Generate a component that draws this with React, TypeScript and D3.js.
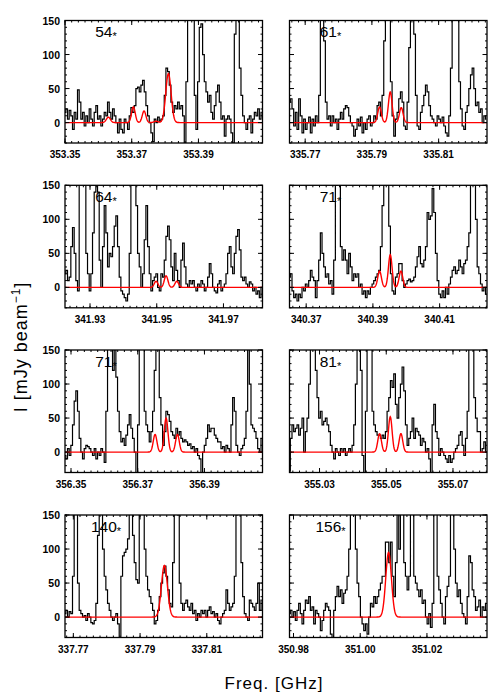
import React from "react";
import * as d3 from "d3";

// ---------- data ----------
const panelLabels = ["54", "61", "64", "71", "71", "81", "140", "156"];
const freqStart = [353.35, 335.7653, 341.9225, 340.365, 356.3482, 355.021, 337.7675, 350.9788];
const freqSpan = 0.0592;
const chanWidth = 0.0005;
const tickLabels = [
  ["353.35", "353.37", "353.39"],
  ["335.77", "335.79", "335.81"],
  ["341.93", "341.95", "341.97"],
  ["340.37", "340.39", "340.41"],
  ["356.35", "356.37", "356.39"],
  ["355.03", "355.05", "355.07"],
  ["337.77", "337.79", "337.81"],
  ["350.98", "351.00", "351.02"],
];
const yTicks = [0, 50, 100, 150];

const spec54 = [15, 20, 5, 18, 10, -10, 15, 5, 48, 30, 5, 15, -5, 10, 0, 20, 5, -5, 15, 25, 5, 10, -5, 5, 15, 10, 30, 15, 5, 20, 10, 0, -15, 5, -10, -15, 5, 0, -10, 10, 22, 15, 25, 50, 52, 45, 55, 62, 45, 25, 10, 0, -15, -28, 5, 0, 8, 2, 5, 10, 40, 80, 75, 55, 30, 15, 25, 20, 30, 20, 25, 10, -30, 60, 170, 200, 200, 160, 40, -10, 60, 140, 145, 100, 60, 45, 30, 40, 15, 5, 25, 45, 55, 30, 5, 10, -20, 5, 10, 5, -15, -30, 130, 200, 170, 80, 40, 10, 0, -10, 5, 10, -15, 5, 15, 10, 20, 5, 15];
const spec61 = [30, 35, 20, -5, 15, -10, 35, 10, -15, 5, -10, 0, 8, -15, 5, -5, 10, 0, 40, 180, 200, 120, 30, 5, 10, -5, 10, 0, 5, -10, 5, 15, 5, 20, 25, 22, 10, 0, -5, -20, -10, 5, -5, 8, -15, 0, -10, 5, 10, -5, 0, 10, 5, 25, 30, 10, 40, 120, 200, 200, 160, 60, 10, -20, 5, 15, 35, 45, 30, -5, -10, 30, 110, 200, 200, 130, 40, -5, -10, 15, 25, 40, 55, 45, 25, 10, 5, 0, -5, 10, 5, 0, 8, -5, -15, -20, 10, 80, 200, 200, 200, 150, 60, 20, -5, -10, 15, 25, 50, 70, 80, 50, 25, 30, 15, 20, 0, 10, 5];
const spec64 = [20, 25, 10, 15, 60, 88, 50, 10, -5, 160, 200, 200, 150, 50, 20, -5, 20, 80, 140, 160, 140, 40, 0, 60, 120, 80, 30, 50, 45, 60, 90, 105, 60, 15, -5, -10, -15, -20, -10, 50, 150, 200, 200, 120, 50, 30, 0, 20, 70, 120, 60, 20, -5, 10, 15, 20, 0, -5, 20, 15, 40, 75, 90, 70, 30, 10, 50, 25, 10, 0, 40, 65, 30, 5, 0, 10, 5, 10, 0, -5, 5, 0, 10, 5, -5, 0, 15, 35, 20, 0, -5, -8, 5, 10, -5, 0, 5, 20, 50, 60, 30, 20, 50, 75, 85, 55, 15, 10, 15, 5, 0, 8, 5, -5, 0, -10, -5, -15, 0];
const spec71a = [15, 20, -5, -15, -10, -20, -10, -15, 0, -5, 5, 0, 10, 25, 15, 10, -15, 10, 40, 80, 50, 30, 15, 20, 5, 10, -10, 40, 150, 200, 170, 60, 40, 55, 40, 20, 50, 30, 10, 20, 15, 20, 0, 5, -10, -5, -15, -5, -10, 0, 5, 10, 15, 20, 25, 60, 120, 200, 200, 180, 90, 20, -5, -10, 15, 20, 35, 35, 10, 0, 5, 10, 12, 8, 10, 15, 30, 45, 60, 35, 30, 40, 60, 110, 100, 105, 145, 110, 50, 10, -10, -15, -5, -15, 0, -10, 5, 15, 25, 30, 20, 25, 40, 30, 20, 35, 40, 60, 80, 160, 200, 170, 100, 30, 20, 5, -5, 0, -10];
const spec71b = [-5, -10, 5, -5, 10, 40, 75, 90, 60, 20, 0, -10, 5, 10, 8, 5, 0, -5, 5, -10, 0, -5, 5, 0, -15, 60, 160, 200, 170, 120, 160, 110, 60, 30, 15, 20, 10, 25, 40, 55, 35, 20, 0, -30, 40, 170, 200, 160, 60, 40, 30, 15, 30, 60, 120, 200, 190, 80, 40, 10, 30, 60, 55, 45, 30, 25, 20, 35, 25, 30, 20, 15, 18, 15, 10, 12, 5, 8, 0, 5, -5, -10, -30, 0, 10, 20, 40, 30, 35, 35, 25, 20, 15, 15, 5, 8, 0, 10, 5, 0, 40, 80, 60, 10, 0, -5, 5, 10, 20, 60, 160, 100, 40, 35, 30, 20, 5, 0, 20];
const spec81 = [-28, 20, 40, 30, 35, 40, 25, 35, 50, 0, 30, 50, 100, 170, 200, 180, 120, 80, 50, 60, 40, 45, 50, 40, 30, 10, 0, -10, 5, 0, -5, 5, 0, 5, -5, 0, 5, 0, 10, 40, 100, 170, 200, 120, -5, -30, 60, 180, 200, 160, 60, 40, 30, 25, 25, 20, 25, 20, 30, 60, 80, 105, 95, 115, 70, 50, 80, 100, 125, 90, 40, 10, 20, 30, 50, 20, 35, 30, 25, 10, 20, 15, 0, 5, -10, -30, 40, 70, 30, 20, -5, 5, 0, -5, -10, -15, -5, -15, -10, 0, 5, 10, 25, 30, 10, -5, 20, 60, 170, 200, 170, 80, 50, 30, 30, 0, 5, 15, 0];
const spec140 = [5, 10, 0, 8, 5, 60, 200, 170, 50, 10, 5, 0, 2, -5, 5, 0, -8, -10, -5, 20, 120, 200, 170, 100, 60, 40, 20, 10, 0, -5, 0, 5, -10, -30, 60, 90, 95, 100, 115, 160, 200, 120, 80, 55, 50, 180, 200, 170, 100, 60, 40, 30, 20, 10, -10, -5, 10, 30, 50, 65, 75, 60, 40, 20, 15, 80, 180, 200, 150, 50, 20, 10, 20, 25, 15, 10, 20, 5, 10, -5, 5, 0, 10, 5, 10, 0, 10, 15, 5, 8, 0, 5, -5, -10, 0, 5, 10, 40, 20, 10, 15, 20, 60, 150, 200, 180, 80, 30, 5, 0, -5, 25, 20, 15, 10, 20, 50, 10, 25];
const spec156 = [5, 10, 0, 8, -5, 10, 20, 5, -10, 10, 25, 20, 30, 10, 15, -10, 10, 5, 0, -20, -5, 10, 20, 15, 10, -25, -30, 10, 30, 45, 30, 40, 20, 35, 40, 60, 100, 170, 200, 180, 100, 50, 30, 0, -10, -20, -10, -25, 0, 20, 15, 30, 20, 30, 40, 50, 60, 60, 110, 110, 80, 110, 60, 30, 80, 170, 100, 180, 200, 80, 60, 40, 60, 170, 200, 60, 50, 40, 30, 40, 20, 25, 0, -10, 5, -15, 20, 170, 200, 60, 40, 20, 0, -10, 30, 45, 60, 170, 200, 100, 50, 30, 40, 20, 5, 0, -10, 30, 90, 80, 40, 30, 10, 15, 25, 0, 15, 10, 20];
const spectra = [spec54, spec61, spec64, spec71a, spec71b, spec81, spec140, spec156];

// model gaussian components (centre GHz, peak mJy/beam, sigma GHz)
const modelCenters = [
  [353.363, 353.3705, 353.3737, 353.3773, 353.381],
  [335.7923, 335.7955, 335.7988],
  [341.9498, 341.9528, 341.956],
  [340.392, 340.3952, 340.3984],
  [356.3752, 356.3785, 356.3819],
  [355.048, 355.0512, 355.0544],
  [337.7973],
  [351.0085],
];
const modelAmps = [
  [8, 23, 17, 2, 72],
  [23, 45, 22],
  [9, 17, 9],
  [24, 48, 24],
  [26, 50, 26],
  [27, 52, 27],
  [76],
  [95],
];
const modelSigmas = [
  [0.0006, 0.00055, 0.00055, 0.0006, 0.0008],
  [0.00055, 0.00055, 0.00055],
  [0.00055, 0.00055, 0.00055],
  [0.00055, 0.00055, 0.00055],
  [0.00055, 0.00055, 0.00055],
  [0.00055, 0.00055, 0.00055],
  [0.0009],
  [0.00085],
];

// ---------- layout ----------
const colX = [65, 289.5];
const rowY = [20.5, 185.3, 350, 515];
const PW = 197.5;
const PH = 122.5;
const FONT = "'Liberation Sans', Arial, Helvetica, sans-serif";

function Panel({ idx }: { idx: number }) {
  const left = colX[idx % 2];
  const top = rowY[Math.floor(idx / 2)];
  const start = freqStart[idx];
  const x = d3.scaleLinear().domain([start, start + freqSpan]).range([0, PW]);
  const y = d3.scaleLinear().domain([-30, 150]).range([PH, 0]);
  const data = spectra[idx];
  const line = d3
    .line<number>()
    .x((_, i) => x(start + i * chanWidth))
    .y((d) => y(d))
    .curve(d3.curveStep);
  const nModel = 600;
  const modelPts = d3.range(nModel + 1).map((k) => {
    const f = start + (k / nModel) * freqSpan;
    let v = 0;
    modelCenters[idx].forEach((c, j) => {
      const s = modelSigmas[idx][j];
      v += modelAmps[idx][j] * Math.exp(-0.5 * ((f - c) / s) ** 2);
    });
    return [f, v] as [number, number];
  });
  const modelLine = d3
    .line<[number, number]>()
    .x((d) => x(d[0]))
    .y((d) => y(d[1]));
  const majors = tickLabels[idx].map((t) => +t);
  const minorX = d3
    .range(Math.ceil(start / 0.002), Math.floor((start + freqSpan) / 0.002) + 1)
    .map((k) => k * 0.002);
  const minorY = d3.range(-30, 151, 10);
  const clipId = `clip${idx}`;
  return (
    <g transform={`translate(${left},${top})`}>
      <defs>
        <clipPath id={clipId}>
          <rect x={0} y={0} width={PW} height={PH} />
        </clipPath>
      </defs>
      <text x={41} y={16.5} textAnchor="middle" fontFamily={FONT} fontSize={15.5} fill="#000">
        {panelLabels[idx]}
        <tspan fontSize={11} dy={3}>*</tspan>
      </text>
      <g clipPath={`url(#${clipId})`}>
        <path d={line(data) || ""} fill="none" stroke="#000" strokeWidth={1.2} />
        <path d={modelLine(modelPts) || ""} fill="none" stroke="#f00" strokeWidth={1.4} />
      </g>
      {/* ticks */}
      <g stroke="#000" strokeWidth={1}>
        {minorX.map((v, i) => (
          <g key={`mx${i}`}>
            <line x1={x(v)} x2={x(v)} y1={PH} y2={PH - 2} />
            <line x1={x(v)} x2={x(v)} y1={0} y2={2} />
          </g>
        ))}
        {majors.map((v, i) => (
          <g key={`Mx${i}`}>
            <line x1={x(v)} x2={x(v)} y1={PH} y2={PH - 4.5} />
            <line x1={x(v)} x2={x(v)} y1={0} y2={4.5} />
          </g>
        ))}
        {minorY.map((v, i) => (
          <g key={`my${i}`}>
            <line x1={0} x2={2} y1={y(v)} y2={y(v)} />
            <line x1={PW} x2={PW - 2} y1={y(v)} y2={y(v)} />
          </g>
        ))}
        {yTicks.map((v, i) => (
          <g key={`My${i}`}>
            <line x1={0} x2={4.5} y1={y(v)} y2={y(v)} />
            <line x1={PW} x2={PW - 4.5} y1={y(v)} y2={y(v)} />
          </g>
        ))}
      </g>
      <rect x={0} y={0} width={PW} height={PH} fill="none" stroke="#000" strokeWidth={1.3} />
      {/* tick labels */}
      {tickLabels[idx].map((t, i) => (
        <text
          key={`tl${i}`}
          x={x(+t)}
          y={PH + 15}
          textAnchor="middle"
          fontFamily={FONT}
          fontWeight="bold"
          fontSize={10}
          fill="#000"
        >
          {t}
        </text>
      ))}
      {idx % 2 === 0 &&
        yTicks.map((v, i) => (
          <text
            key={`yl${i}`}
            x={-5}
            y={y(v) + 4}
            textAnchor="end"
            fontFamily={FONT}
            fontWeight="bold"
            fontSize={10.5}
            fill="#000"
          >
            {v}
          </text>
        ))}
    </g>
  );
}

export default function App() {
  return (
    <svg
      width={500}
      height={700}
      viewBox="0 0 500 700"
      style={{ position: "absolute", left: 0, top: 0, background: "#fff" }}
    >
      <rect x={0} y={0} width={500} height={700} fill="#fff" />
      {panelLabels.map((_, i) => (
        <Panel key={i} idx={i} />
      ))}
      <text
        transform="translate(27,347) rotate(-90)"
        textAnchor="middle"
        fontFamily={FONT}
        fontSize={18}
        letterSpacing={1}
        fill="#000"
      >
        I [mJy beam
        <tspan fontSize={12} dy={-7}>−1</tspan>
        <tspan dy={7}>]</tspan>
      </text>
      <text
        x={274}
        y={689}
        textAnchor="middle"
        fontFamily={FONT}
        fontSize={17}
        letterSpacing={1}
        fill="#000"
      >
        Freq. [GHz]
      </text>
    </svg>
  );
}
